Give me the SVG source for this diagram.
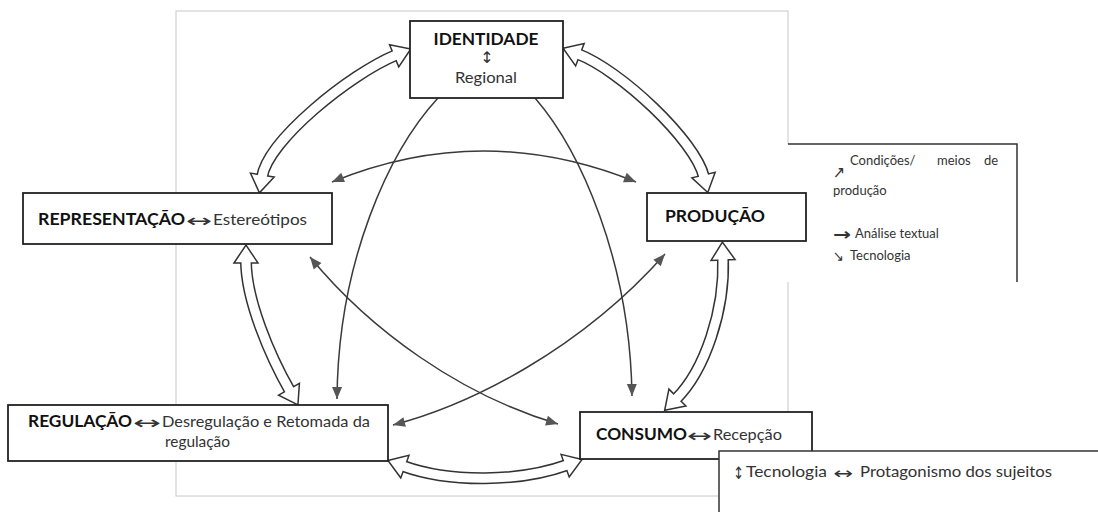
<svg xmlns="http://www.w3.org/2000/svg" width="1098" height="512" viewBox="0 0 1098 512">
<style>
.b{font-family:Lato,'Open Sans','DejaVu Sans',sans-serif;font-weight:700;font-size:17px;fill:#111}
.r{font-family:Lato,'Open Sans','DejaVu Sans',sans-serif;font-size:15px;fill:#333}
.s{font-family:Lato,'Open Sans','DejaVu Sans',sans-serif;font-size:13px;fill:#333}
.sym{font-family:'DejaVu Sans',sans-serif;fill:#333}
.box{fill:#fff;stroke:#222;stroke-width:1.8}
.frame{fill:none;stroke:#c8c8c8;stroke-width:1}
.thin{fill:none;stroke:#3a3a3a;stroke-width:1.5;marker-end:url(#th)}
.dbl{marker-start:url(#th)}
.bo{fill:none;stroke:#333;stroke-width:12;marker-start:url(#bh);marker-end:url(#bh)}
.bi{fill:none;stroke:#fff;stroke-width:9}
</style>
<defs>
<marker id="th" viewBox="-13 -7 14 14" refX="0" refY="0" markerWidth="14" markerHeight="14" markerUnits="userSpaceOnUse" orient="auto-start-reverse" overflow="visible">
<path d="M0,0 L-12,-5 L-12,5 Z" fill="#555"/>
</marker>
<marker id="bh" viewBox="-4 -14 22 28" refX="0" refY="0" markerWidth="22" markerHeight="28" markerUnits="userSpaceOnUse" orient="auto-start-reverse" overflow="visible">
<path d="M-2,-12 L16,0 L-2,12 Z" fill="#fff" stroke="#333" stroke-width="1.5" stroke-linejoin="miter"/>
</marker>
</defs>
<rect width="1098" height="512" fill="#fff"/>
<rect class="frame" x="176" y="11" width="612" height="485"/>

<g id="connectors">
  <path class="bo" d="M262,177 C268,140 350,74 396,55"/>
  <path class="bo" d="M578,54 C620,70 695,140 704,177"/>
  <path class="bo" d="M723,258 C725,310 705,370 676,399"/>
  <path class="bo" d="M403,466 C450,483 520,482 567,465"/>
  <path class="bo" d="M246,261 C246,300 270,356 290,391"/>
  <path class="bi" d="M262,177 C268,140 350,74 396,55"/>
  <path class="bi" d="M578,54 C620,70 695,140 704,177"/>
  <path class="bi" d="M723,258 C725,310 705,370 676,399"/>
  <path class="bi" d="M403,466 C450,483 520,482 567,465"/>
  <path class="bi" d="M246,261 C246,300 270,356 290,391"/>
  <path class="thin" d="M438,98 C390,150 338,260 337,399"/>
  <path class="thin" d="M535,98 C580,150 630,260 632,396"/>
  <path class="thin dbl" d="M332,182 Q483,120 636,182"/>
  <path class="thin dbl" d="M310,257 C370,330 460,395 558,424"/>
  <path class="thin dbl" d="M393,425 C470,405 580,350 665,254"/>
</g>

<g id="note-producao">
  <rect x="784" y="144" width="233" height="138" fill="#fff"/>
  <polyline points="788,144 1017,144 1017,282" fill="none" stroke="#333" stroke-width="1.5"/>
  <text class="sym" x="833" y="178" font-size="17" textLength="12" lengthAdjust="spacingAndGlyphs">&#x2197;&#xFE0E;</text>
  <text class="s" x="850" y="165">Condições/</text>
  <text class="s" x="937" y="165">meios</text>
  <text class="s" x="984" y="165">de</text>
  <text class="s" x="833" y="195">produção</text>
  <text class="sym" x="833" y="240" font-size="17" font-weight="bold" textLength="18" lengthAdjust="spacingAndGlyphs">→</text>
  <text class="s" x="855" y="238">Análise textual</text>
  <text class="sym" x="833" y="261" font-size="15" textLength="11" lengthAdjust="spacingAndGlyphs">&#x2198;&#xFE0E;</text>
  <text class="s" x="850" y="260">Tecnologia</text>
</g>

<g id="identidade">
  <rect class="box" x="410" y="21" width="153" height="77"/>
  <text class="b" x="486" y="45" text-anchor="middle" textLength="105" lengthAdjust="spacingAndGlyphs">IDENTIDADE</text>
  <text class="sym" x="487" y="63" text-anchor="middle" font-size="16">&#x2195;&#xFE0E;</text>
  <text class="r" x="486" y="83" text-anchor="middle" textLength="62" lengthAdjust="spacingAndGlyphs">Regional</text>
</g>

<g id="representacao">
  <rect class="box" x="23" y="193" width="309" height="51"/>
  <text class="b" x="38" y="225" textLength="147" lengthAdjust="spacingAndGlyphs">REPRESENTAÇÃO</text>
  <text class="sym" x="186" y="227" font-size="18" textLength="26" lengthAdjust="spacingAndGlyphs">&#x2194;&#xFE0E;</text>
  <text class="r" x="213" y="225" textLength="94" lengthAdjust="spacingAndGlyphs">Estereótipos</text>
</g>

<g id="producao">
  <rect class="box" x="647" y="193" width="159" height="48"/>
  <text class="b" x="665" y="222" textLength="100" lengthAdjust="spacingAndGlyphs">PRODUÇÃO</text>
</g>

<g id="regulacao">
  <rect class="box" x="8" y="405" width="380" height="56"/>
  <text class="b" x="28" y="427" textLength="104" lengthAdjust="spacingAndGlyphs">REGULAÇÃO</text>
  <text class="sym" x="133" y="429" font-size="18" textLength="28" lengthAdjust="spacingAndGlyphs">&#x2194;&#xFE0E;</text>
  <text class="r" x="162" y="427" textLength="208" lengthAdjust="spacingAndGlyphs">Desregulação e Retomada da</text>
  <text class="r" x="165" y="447" textLength="65" lengthAdjust="spacingAndGlyphs">regulação</text>
</g>

<g id="consumo">
  <rect class="box" x="580" y="412" width="232" height="47"/>
  <text class="b" x="596" y="440" textLength="91" lengthAdjust="spacingAndGlyphs">CONSUMO</text>
  <text class="sym" x="687" y="442" font-size="18" textLength="25" lengthAdjust="spacingAndGlyphs">&#x2194;&#xFE0E;</text>
  <text class="r" x="713" y="440" textLength="69" lengthAdjust="spacingAndGlyphs">Recepção</text>
</g>

<g id="note-consumo">
  <rect x="719" y="451" width="400" height="80" fill="#fff" stroke="#333" stroke-width="1.5"/>
  <text class="sym" x="733" y="479" font-size="17" textLength="11" lengthAdjust="spacingAndGlyphs">&#x2195;&#xFE0E;</text>
  <text class="r" x="746" y="477" textLength="81" lengthAdjust="spacingAndGlyphs">Tecnologia</text>
  <text class="sym" x="833" y="479" font-size="16" textLength="20" lengthAdjust="spacingAndGlyphs">&#x2194;&#xFE0E;</text>
  <text class="r" x="860" y="477" textLength="192" lengthAdjust="spacingAndGlyphs">Protagonismo dos sujeitos</text>
</g>
</svg>
